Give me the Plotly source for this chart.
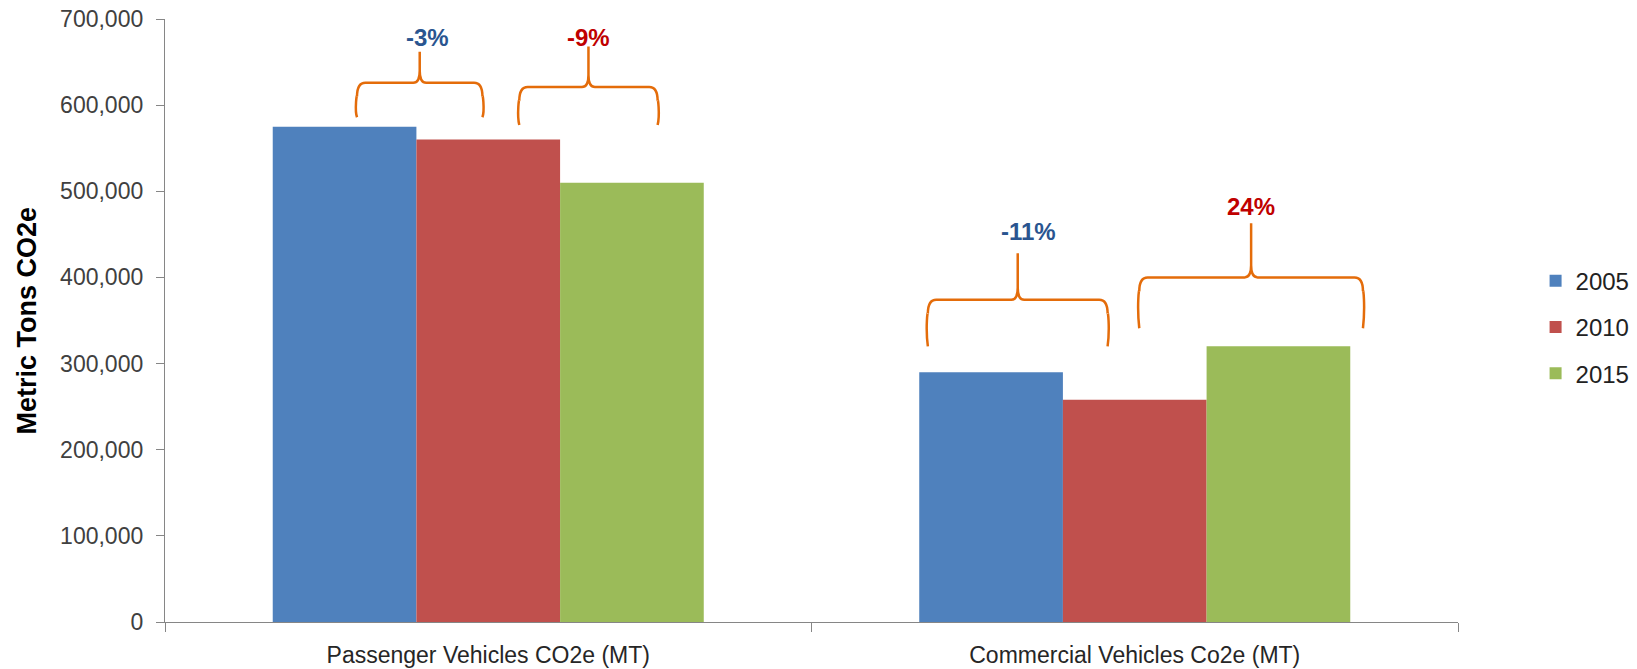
import plotly.graph_objects as go

categories = ["Passenger Vehicles CO2e (MT)", "Commercial Vehicles Co2e (MT)"]
years = ["2005", "2010", "2015"]
values_2005 = [575000, 290000]
values_2010 = [560000, 258000]
values_2015 = [510000, 320000]
series_values = [values_2005, values_2010, values_2015]
bar_colors = ["#4F81BD", "#C0504D", "#9BBB59"]

y_ticks = [0, 100000, 200000, 300000, 400000, 500000, 600000, 700000]

# percentage-change callouts (label, text colour) and their brace geometry
change_labels = ["-3%", "-9%", "-11%", "24%"]
change_colors = ["#2A5590", "#C00000", "#2A5590", "#C00000"]
brace_center = [-0.106, 0.155, -0.181, 0.18]
brace_category = [0, 0, 1, 1]
brace_half = [0.097, 0.107, 0.139, 0.173]
brace_bottom = [586000, 577000, 320000, 341000]
brace_mid = [626000, 621000, 374000, 400000]
brace_top = [662000, 668000, 428000, 463000]
label_y = [678000, 678000, 453000, 482000]
label_dx = [0.012, 0.0, 0.016, 0.0]

FONT = "Liberation Sans, Arial, sans-serif"

fig = go.Figure()
x_idx = list(range(len(categories)))
for name, vals, col in zip(years, series_values, bar_colors):
    fig.add_trace(go.Bar(x=x_idx, y=vals, name=name, marker_color=col,
                         marker_line_width=0, legendgroup=name))

rx, ry = 0.013, 16000
cx, cy = 0.010, 14000
shapes = []
annotations = []
for i in range(len(change_labels)):
    xc = brace_category[i] + brace_center[i]
    xl = xc - brace_half[i]
    xr = xc + brace_half[i]
    yb, ym, yt = brace_bottom[i], brace_mid[i], brace_top[i]
    path = (f"M {xl},{yb} C {xl-0.004},{ym-ry*2} {xl},{ym-ry*0.6} {xl},{ym-ry} "
            f"Q {xl},{ym} {xl+rx},{ym} "
            f"L {xc-cx},{ym} Q {xc},{ym} {xc},{ym+cy} L {xc},{yt} "
            f"L {xc},{ym+cy} Q {xc},{ym} {xc+cx},{ym} "
            f"L {xr-rx},{ym} Q {xr},{ym} {xr},{ym-ry} "
            f"C {xr},{ym-ry*0.6} {xr+0.004},{ym-ry*2} {xr},{yb}")
    shapes.append(dict(type="path", path=path, xref="x", yref="y",
                       line=dict(color="#E46C0A", width=2.5)))
    annotations.append(dict(x=xc + label_dx[i], y=label_y[i], xref="x", yref="y",
                            text=f"<b>{change_labels[i]}</b>", showarrow=False,
                            font=dict(family=FONT, size=24, color=change_colors[i]),
                            xanchor="center", yanchor="middle"))

# y-axis title
annotations.append(dict(x=-0.1075, y=0.5, xref="paper", yref="paper",
                        text="<b>Metric Tons CO2e</b>", showarrow=False, textangle=-90,
                        font=dict(family=FONT, size=27, color="#000000"),
                        xanchor="center", yanchor="middle"))

fig.update_layout(
    width=1637, height=669,
    margin=dict(l=165, r=179, t=19, b=47, autoexpand=False),
    paper_bgcolor="white", plot_bgcolor="white",
    barmode="group", bargap=0.3333, bargroupgap=0,
    font=dict(family=FONT, size=22, color="#404040"),
    shapes=shapes, annotations=annotations,
    legend=dict(x=1.06, y=0.489, xanchor="left", yanchor="middle",
                font=dict(family=FONT, size=24, color="#222222"),
                tracegroupgap=12, itemwidth=30),
    xaxis=dict(range=[-0.5, 1.5], tickmode="array", tickvals=x_idx, ticktext=categories,
               ticks="", showline=True, linecolor="#868686", linewidth=1.3,
               showgrid=False, zeroline=False, ticklabelstandoff=12, automargin=False,
               ticklabeloverflow="allow",
               tickfont=dict(family=FONT, size=23, color="#262626"),
               minor=dict(tickmode="array", tickvals=[-0.5, 0.5, 1.5], ticks="outside",
                          ticklen=9, tickcolor="#868686", tickwidth=1.3, showgrid=False)),
    yaxis=dict(range=[0, 700000], tickmode="array", tickvals=y_ticks,
               tickformat=",", ticks="outside", ticklen=8, tickcolor="#868686",
               tickwidth=1.3, showline=True, linecolor="#868686", linewidth=1.3,
               showgrid=False, zeroline=False, ticklabelstandoff=8, automargin=False,
               ticklabeloverflow="allow",
               tickfont=dict(family=FONT, size=23, color="#404040")),
)

fig.write_html("out.html", config={"displayModeBar": False},
               post_script="document.body.style.margin='0';document.body.style.overflow='hidden';")
